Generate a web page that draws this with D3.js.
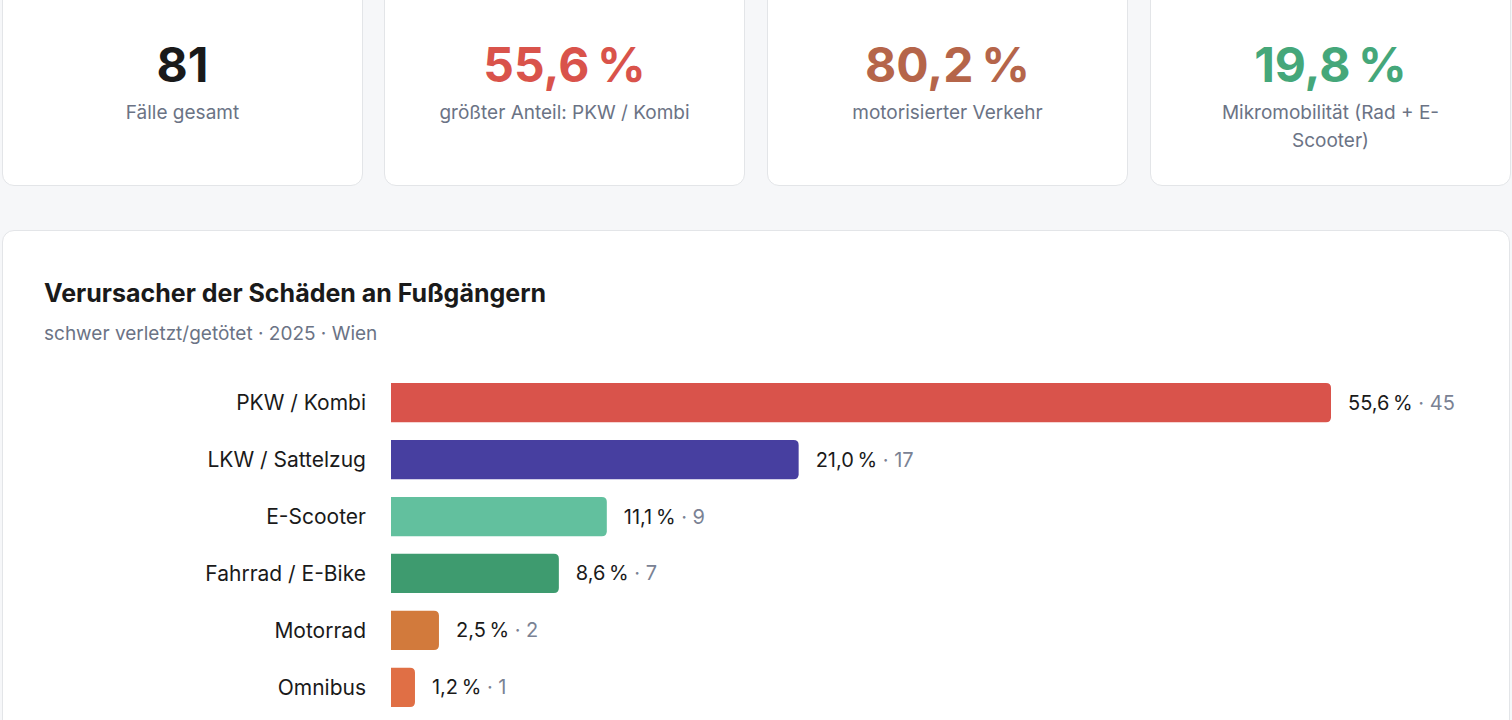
<!DOCTYPE html>
<html><head><meta charset="utf-8">
<script src="https://cdn.jsdelivr.net/npm/d3@7"></script>
<style>
body{margin:0;background:#f6f7f9;font-family:Inter,"Noto Sans",sans-serif;width:1512px;height:720px;overflow:hidden;position:relative}
.card{position:absolute;top:-14px;height:200px;background:#fff;border:1.5px solid #e3e5e8;border-radius:12px;box-sizing:border-box;text-align:center}
.card .v{margin-top:50px;font-size:48px;font-weight:700;letter-spacing:0px;line-height:56px}
.card .l{margin-top:6px;font-size:19px;color:#6b7385;line-height:28px;padding:0 50px}
.panel{position:absolute;left:2px;top:230px;width:1508px;height:520px;background:#fff;border:1.5px solid #e3e5e8;border-radius:12px;box-sizing:border-box}
</style></head><body>
<div id="cards"></div>
<div class="panel"></div>
<svg id="chart" width="1512" height="720" style="position:absolute;left:0;top:0"></svg>
<script>
var kpiValues=["81","55,6\u202F%","80,2\u202F%","19,8\u202F%"];
var kpiLabels=["Fälle gesamt","größter Anteil: PKW / Kombi","motorisierter Verkehr","Mikromobilität (Rad + E-Scooter)"];
var kpiColors=["#1a1a1a","#d9534b","#b5654a","#45a77a"];
var categories=["PKW / Kombi","LKW / Sattelzug","E-Scooter","Fahrrad / E-Bike","Motorrad","Omnibus"];
var counts=[45,17,9,7,2,1];
var shares=["55,6","21,0","11,1","8,6","2,5","1,2"];
var colors=["#d9534b","#473fa0","#62c09e","#3e9b6f","#d27a3c","#e06f45"];

var cardX=[2,384,767,1150];
d3.select("#cards").selectAll("div").data(kpiValues).enter().append("div")
  .attr("class","card")
  .style("left",function(d,i){return cardX[i]+"px";})
  .style("width","361px")
  .html(function(d,i){return "<div class='v' style='color:"+kpiColors[i]+"'>"+d+"</div><div class='l'>"+kpiLabels[i]+"</div>";});

var svg=d3.select("#chart");
svg.append("text").attr("x",44).attr("y",302).attr("font-size",25).attr("font-weight",700).attr("fill","#1a1a1a")
   .text("Verursacher der Schäden an Fußgängern");
svg.append("text").attr("x",44).attr("y",340).attr("font-size",19).attr("fill","#6b7385")
   .text("schwer verletzt/getötet · 2025 · Wien");

var xScale=d3.scaleLinear().domain([0,39.2]).range([0,940]).clamp(true);
var yScale=d3.scaleBand().domain(categories).range([383,707]).paddingInner(0.31).paddingOuter(0);
var left=391;

var rows=svg.append("g").selectAll("g").data(categories).enter().append("g")
  .attr("transform",function(d){return "translate(0,"+yScale(d)+")";});
var bh=yScale.bandwidth();
rows.append("path").attr("fill",function(d,i){return colors[i];})
  .attr("d",function(d,i){
    var w=xScale(counts[i]),r=Math.min(5,w/2);
    return "M"+left+",0H"+(left+w-r)+"Q"+(left+w)+",0 "+(left+w)+","+r+"V"+(bh-r)+"Q"+(left+w)+","+bh+" "+(left+w-r)+","+bh+"H"+left+"Z";
  });
rows.append("text").attr("x",366).attr("y",bh/2).attr("dy","0.35em").attr("text-anchor","end")
  .attr("font-size",21).attr("fill","#1a1a1a").text(function(d){return d;});
var lab=rows.append("text").attr("x",function(d,i){return left+xScale(counts[i])+17;})
  .attr("y",bh/2).attr("dy","0.35em").attr("font-size",20);
lab.append("tspan").attr("fill","#1a1a1a").text(function(d,i){return shares[i]+"\u202F%";});
lab.append("tspan").attr("fill","#7a8294").text(function(d,i){return " · "+counts[i];});
</script></body></html>
